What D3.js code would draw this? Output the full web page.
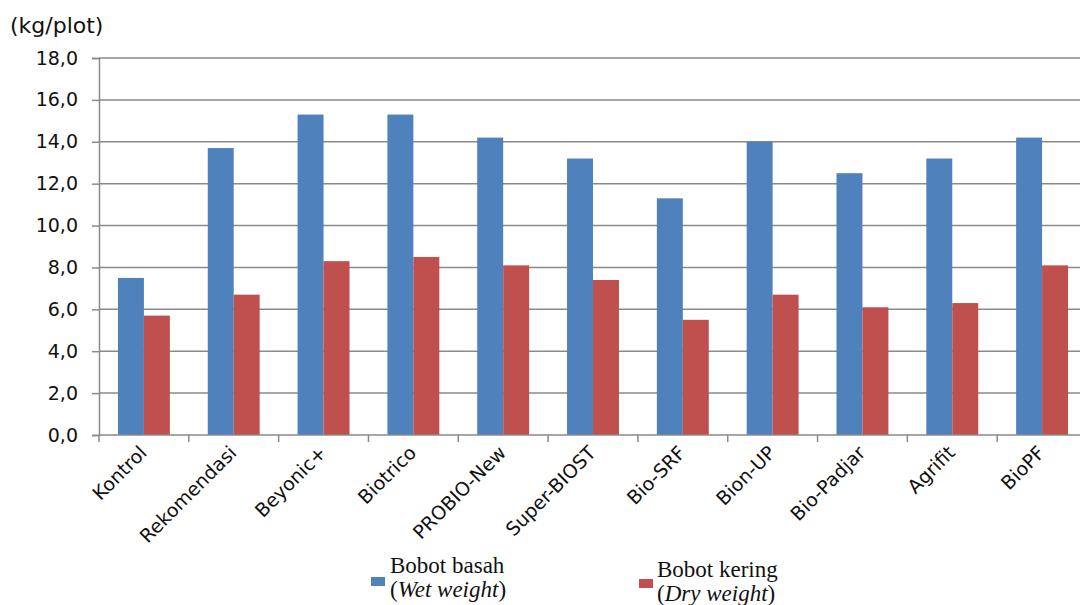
<!DOCTYPE html>
<html>
<head>
<meta charset="utf-8">
<script src="https://cdn.jsdelivr.net/npm/d3@7"></script>
<style>
  body { margin: 0; background: #fff; }
  svg { display: block; }
</style>
</head>
<body>
<div id="chart"></div>
<script>
// data
var categories = ["Kontrol", "Rekomendasi", "Beyonic+", "Biotrico", "PROBIO-New",
  "Super-BIOST", "Bio-SRF", "Bion-UP", "Bio-Padjar", "Agrifit", "BioPF"];
var wetWeight = [7.5, 13.7, 15.3, 15.3, 14.2, 13.2, 11.3, 14.0, 12.5, 13.2, 14.2];
var dryWeight = [5.7, 6.7, 8.3, 8.5, 8.1, 7.4, 5.5, 6.7, 6.1, 6.3, 8.1];
var seriesKeys = ["wet", "dry"];
var yTicks = [0, 2, 4, 6, 8, 10, 12, 14, 16, 18];

var w = 1080, h = 605;
// plot area (note: "top" is reserved on window, so use own names)
var plotL = 99, plotR = 1087, plotT = 58, plotB = 435;
var colors = { wet: "#4F81BD", dry: "#C0504D" };

var table = categories.map(function(c, i) {
  return { cat: c, wet: wetWeight[i], dry: dryWeight[i] };
});

var svg = d3.select("#chart").append("svg")
  .attr("width", w)
  .attr("height", h);

var x = d3.scaleBand()
  .domain(categories)
  .range([plotL, plotR])
  .padding(0);

var xSub = d3.scaleBand()
  .domain(seriesKeys)
  .range([0, x.bandwidth()])
  .paddingInner(0)
  .paddingOuter(0.73);

var y = d3.scaleLinear()
  .domain([0, 18])
  .range([plotB, plotT]);

var fmt = function(d) { return d3.format(".1f")(d).replace(".", ","); };

// gridlines
svg.append("g")
  .selectAll("line")
  .data(yTicks.filter(function(d) { return d > 0; }))
  .enter()
  .append("line")
  .attr("x1", plotL)
  .attr("x2", plotR)
  .attr("y1", function(d) { return y(d); })
  .attr("y2", function(d) { return y(d); })
  .attr("stroke", "#8a8a8a")
  .attr("stroke-width", 1.5);

// Y axis
var yAxis = d3.axisLeft(y)
  .tickValues(yTicks)
  .tickSize(7)
  .tickPadding(14)
  .tickFormat(fmt);

var gy = svg.append("g")
  .attr("transform", "translate(" + plotL + ",0)")
  .call(yAxis);
gy.select(".domain").attr("stroke", "#8a8a8a").attr("stroke-width", 1.5);
gy.selectAll(".tick line").attr("stroke", "#8a8a8a").attr("stroke-width", 1.5);
gy.selectAll(".tick text")
  .attr("fill", "#111")
  .style("font-family", "DejaVu Sans")
  .style("font-size", "19px");

// bars
var groups = svg.append("g")
  .selectAll("g")
  .data(table)
  .enter()
  .append("g")
  .attr("transform", function(d) { return "translate(" + x(d.cat) + ",0)"; });

groups.selectAll("rect")
  .data(function(d) { return seriesKeys.map(function(k) { return { key: k, value: d[k] }; }); })
  .enter()
  .append("rect")
  .attr("x", function(d) { return xSub(d.key); })
  .attr("width", xSub.bandwidth())
  .attr("y", function(d) { return y(d.value); })
  .attr("height", function(d) { return y(0) - y(d.value); })
  .attr("fill", function(d) { return colors[d.key]; });

// X axis line and ticks at category boundaries
svg.append("line")
  .attr("x1", plotL)
  .attr("x2", plotR)
  .attr("y1", y(0))
  .attr("y2", y(0))
  .attr("stroke", "#8a8a8a")
  .attr("stroke-width", 1.5);

svg.append("g")
  .selectAll("line")
  .data(categories)
  .enter()
  .append("line")
  .attr("x1", function(d) { return x(d); })
  .attr("x2", function(d) { return x(d); })
  .attr("y1", y(0))
  .attr("y2", y(0) + 7)
  .attr("stroke", "#8a8a8a")
  .attr("stroke-width", 1.5);

// X labels
svg.append("g")
  .selectAll("text")
  .data(categories)
  .enter()
  .append("text")
  .attr("transform", function(d) {
    return "translate(" + (x(d) + x.bandwidth() / 2 + 4) + "," + (y(0) + 19) + ") rotate(-45)";
  })
  .attr("text-anchor", "end")
  .attr("fill", "#111")
  .style("font-family", "DejaVu Sans")
  .style("font-size", "19px")
  .text(function(d) { return d; });

// unit label
svg.append("text")
  .attr("x", 10)
  .attr("y", 33)
  .attr("fill", "#111")
  .style("font-family", "DejaVu Sans")
  .style("font-size", "22px")
  .text("(kg/plot)");

// legend
var legend = [
  { key: "wet", name: "Bobot basah", en: "Wet weight", sx: 371, sy: 577, tx: 390, ty: 573 },
  { key: "dry", name: "Bobot kering", en: "Dry weight", sx: 639, sy: 579, tx: 657, ty: 577 }
];

var lg = svg.append("g")
  .selectAll("g")
  .data(legend)
  .enter()
  .append("g");

lg.append("rect")
  .attr("x", function(d) { return d.sx; })
  .attr("y", function(d) { return d.sy; })
  .attr("width", 14)
  .attr("height", 9)
  .attr("fill", function(d) { return colors[d.key]; });

lg.append("text")
  .attr("x", function(d) { return d.tx; })
  .attr("y", function(d) { return d.ty; })
  .attr("fill", "#111")
  .style("font-family", "Liberation Serif")
  .style("font-size", "23px")
  .text(function(d) { return d.name; });

var sub = lg.append("text")
  .attr("x", function(d) { return d.tx; })
  .attr("y", function(d) { return d.ty + 24; })
  .attr("fill", "#111")
  .style("font-family", "Liberation Serif")
  .style("font-size", "23px");
sub.append("tspan").text("(");
sub.append("tspan").style("font-style", "italic").text(function(d) { return d.en; });
sub.append("tspan").text(")");
</script>
</body>
</html>
